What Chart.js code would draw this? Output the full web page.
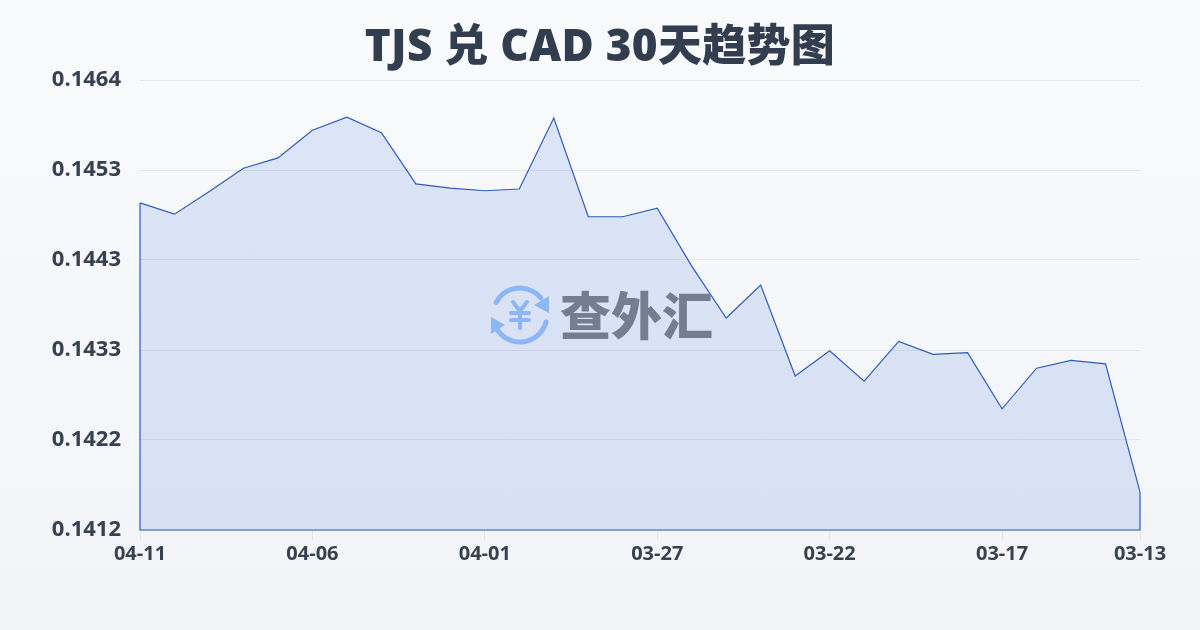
<!DOCTYPE html>
<html>
<head>
<meta charset="utf-8">
<title>TJS 兑 CAD 30天趋势图</title>
<script src="https://cdn.jsdelivr.net/npm/chart.js@4"></script>
<style>
html, body { margin: 0; padding: 0; width: 1200px; height: 630px; overflow: hidden; }
body { position: relative; background: linear-gradient(180deg, #f9fafc 0%, #f3f4f7 100%); }
canvas { display: block; }
#chartTitle {
    position: absolute; left: 0; right: 0; top: 14px; margin: 0;
    text-align: center; color: #323d4f;
    font: 800 44px/60px 'Open Sans', 'Noto Sans CJK SC'; letter-spacing: 0.3px;
}
</style>
</head>
<body>
<h1 id="chartTitle"></h1>
<canvas id="rateChart" width="1200" height="630"></canvas>
<script>
const chartTitle = "TJS 兑 CAD 30天趋势图";
const watermarkText = "查外汇";

const dates = [
    "04-11", "04-10", "04-09", "04-08", "04-07", "04-06", "04-05", "04-04", "04-03", "04-02",
    "04-01", "03-31", "03-30", "03-29", "03-28", "03-27", "03-26", "03-25", "03-24", "03-23",
    "03-22", "03-21", "03-20", "03-19", "03-18", "03-17", "03-16", "03-15", "03-14", "03-13",
];
const rates = [
    0.14498, 0.14485, 0.14511, 0.14538, 0.14550, 0.14582, 0.14597, 0.14579, 0.14520, 0.14515,
    0.14512, 0.14514, 0.14596, 0.14482, 0.14482, 0.14492, 0.14425, 0.14365, 0.14403, 0.14298,
    0.14327, 0.14292, 0.14338, 0.14323, 0.14325, 0.14260, 0.14307, 0.14316, 0.14312, 0.14164,
];
const xTickLabels = ["04-11", "04-06", "04-01", "03-27", "03-22", "03-17", "03-13"];
const yTickValues = [0.1412, 0.14224, 0.14328, 0.14432, 0.14536, 0.1464];
const yTickLabels = ["0.1412", "0.1422", "0.1433", "0.1443", "0.1453", "0.1464"];

const textColor = "#374151";
const lineColor = "#2a5cc2";

document.getElementById("chartTitle").textContent = chartTitle;

// closes the line down to the baseline like the original outline
const outlinePlugin = {
    id: "outline",
    afterDatasetsDraw(chart) {
        const pts = chart.getDatasetMeta(0).data;
        const base = chart.scales.y.bottom;
        const c = chart.ctx;
        c.save();
        c.strokeStyle = lineColor;
        c.lineWidth = 1.2;
        c.beginPath();
        c.moveTo(pts[0].x, pts[0].y);
        c.lineTo(pts[0].x, base);
        c.lineTo(pts[pts.length - 1].x, base);
        c.lineTo(pts[pts.length - 1].x, pts[pts.length - 1].y);
        c.stroke();
        c.restore();
    },
};

const watermarkPlugin = {
    id: "watermark",
    afterDraw(chart) {
        const c = chart.ctx;
        const cx = 520, cy = 315, r = 27;
        c.save();
        c.strokeStyle = "#8db6f7";
        c.fillStyle = "#8db6f7";
        c.lineWidth = 5;
        c.lineCap = "round";
        c.lineJoin = "round";
        c.beginPath();
        c.arc(cx, cy, r, Math.PI * 1.155, Math.PI * 1.78);
        c.stroke();
        c.beginPath();
        c.arc(cx, cy, r, Math.PI * 0.083, Math.PI * 0.806);
        c.stroke();
        c.beginPath();
        c.moveTo(549, 296);
        c.lineTo(549, 313);
        c.lineTo(534, 305);
        c.closePath();
        c.fill();
        c.beginPath();
        c.moveTo(491, 334);
        c.lineTo(491, 317);
        c.lineTo(505, 325);
        c.closePath();
        c.fill();
        // yen sign of the logo
        c.lineWidth = 4;
        c.beginPath();
        c.moveTo(513, 302);
        c.lineTo(520, 311);
        c.lineTo(527, 302);
        c.moveTo(511, 313);
        c.lineTo(529, 313);
        c.moveTo(511, 320);
        c.lineTo(529, 320);
        c.moveTo(520, 311);
        c.lineTo(520, 328);
        c.stroke();
        c.fillStyle = "#757e90";
        c.font = "900 51px 'Noto Sans CJK SC'";
        c.textAlign = "left";
        c.textBaseline = "middle";
        c.fillText(watermarkText, 560, 316);
        c.restore();
    },
};

const ctx = document.getElementById("rateChart").getContext("2d");
const rateChart = new Chart(ctx, {
    type: "line",
    data: {
        labels: dates,
        datasets: [
            {
                data: rates,
                borderColor: lineColor,
                borderWidth: 1.2,
                backgroundColor: "rgba(59, 111, 224, 0.15)",
                fill: "start",
                pointRadius: 0,
                tension: 0,
            },
        ],
    },
    options: {
        responsive: false,
        animation: false,
        layout: { padding: { top: 80, right: 60, bottom: 0, left: 0 } },
        plugins: {
            legend: { display: false },
            tooltip: { enabled: false },
            title: { display: false },
        },
        scales: {
            x: {
                offset: false,
                afterBuildTicks(axis) {
                    axis.ticks = axis.ticks.filter((t) => xTickLabels.includes(dates[t.value]));
                },
                afterFit(axis) {
                    axis.height = 100;
                },
                grid: { drawOnChartArea: false, drawTicks: true, tickLength: 10, color: "#e2e5ea" },
                border: { display: false },
                ticks: {
                    autoSkip: false,
                    maxRotation: 0,
                    padding: 2,
                    color: textColor,
                    font: { family: "'Open Sans'", size: 20, weight: "bold" },
                },
            },
            y: {
                min: 0.1412,
                max: 0.1464,
                afterBuildTicks(axis) {
                    axis.ticks = yTickValues.map((v) => ({ value: v }));
                },
                afterFit(axis) {
                    axis.width = 140;
                },
                grid: { drawTicks: false, color: "#e4e7ec" },
                border: { display: false },
                ticks: {
                    padding: 19,
                    color: textColor,
                    font: { family: "'Open Sans'", size: 22, weight: "bold" },
                    callback: (value, i) => yTickLabels[i],
                },
            },
        },
    },
    plugins: [outlinePlugin, watermarkPlugin],
});
</script>
</body>
</html>
